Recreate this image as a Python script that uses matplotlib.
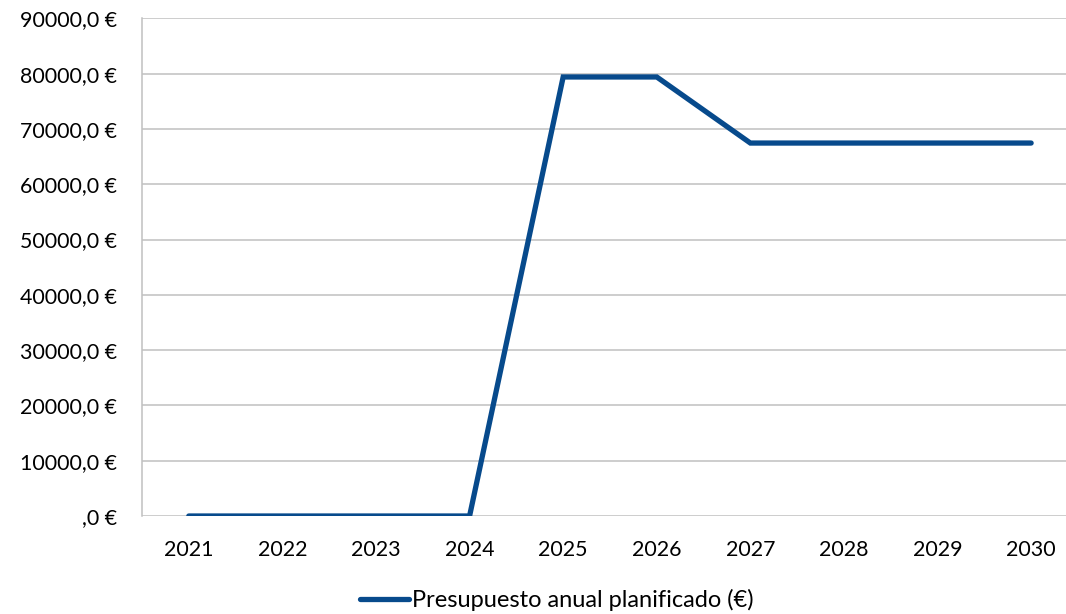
import matplotlib.pyplot as plt
from matplotlib.ticker import FuncFormatter

# datos
years = ['2021', '2022', '2023', '2024', '2025', '2026', '2027', '2028', '2029', '2030']
budget = [0, 0, 0, 0, 79400, 79400, 67450, 67450, 67450, 67450]
label = 'Presupuesto anual planificado (€)'

plt.rcParams['font.family'] = ['Lato', 'DejaVu Sans']

fig = plt.figure(figsize=(10.66, 6.14), dpi=100)
ax = fig.add_axes([0.1332, 0.1596, 0.878, 0.8105])

x = list(range(len(years)))
ax.plot(x, budget, color='#074A8C', linewidth=3.8, solid_capstyle='round',
        solid_joinstyle='miter', label=label, zorder=3)

ax.set_xlim(-0.5, len(years) - 0.5)
ax.set_ylim(0, 90000)
ax.set_xticks(x)
ax.set_xticklabels(years)
ax.set_yticks(range(0, 90001, 10000))


def fmt(v, pos):
    if v == 0:
        return ',0 €'
    return '%d,0 €' % v


ax.yaxis.set_major_formatter(FuncFormatter(fmt))
ax.grid(axis='y', color='#C0C0C0', linewidth=1.1, zorder=0)
for s in ['top', 'right', 'bottom']:
    ax.spines[s].set_visible(False)
ax.spines['left'].set_color('#C0C0C0')
ax.spines['left'].set_linewidth(1.1)
ax.tick_params(axis='both', length=0, labelsize=15.4, colors='black')
ax.tick_params(axis='y', pad=18)
ax.tick_params(axis='x', pad=17)

fig.legend(loc='center', bbox_to_anchor=(0.522, 0.023), frameon=False,
           fontsize=17, handlelength=2.1, handletextpad=0.1)

fig.savefig('out.png', dpi=100)
